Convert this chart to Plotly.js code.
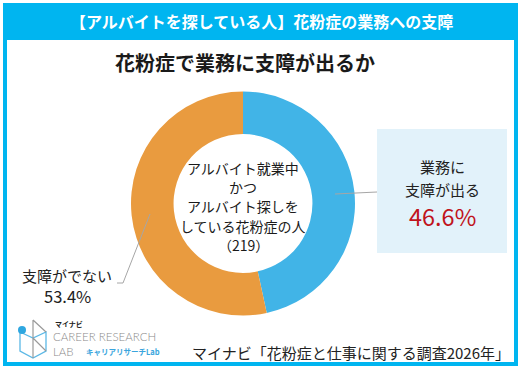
<!DOCTYPE html>
<html><head><meta charset="utf-8">
<script src="https://cdn.plot.ly/plotly-3.0.1.min.js"></script>
<style>html,body{margin:0;padding:0;background:#fff}#c{width:521px;height:372px}</style>
</head><body><div id="c"></div>
<script>
const categories = ["業務に支障が出る", "支障がでない"];
const values = [46.6, 53.4];
const sampleN = 219;
const centerLines = ["アルバイト就業中", "かつ", "アルバイト探しを", "している花粉症の人", "（" + sampleN + "）"];
const colors = ["#41B4E7", "#E99B3F"];
const F = '"Noto Sans CJK JP", "Noto Sans", sans-serif';
const cyan = "#00B5F0";

const cx = 243, cy = 203.5, R = 112, W = 521, H = 372;
const trace = {
  type: "pie", values: values, labels: categories, sort: false, direction: "clockwise", rotation: 0,
  hole: 0.62, textinfo: "none", hoverinfo: "none", showlegend: false,
  marker: {colors: colors, line: {width: 0}},
  domain: {x: [(cx - R) / W, (cx + R) / W], y: [(H - cy - R) / H, (H - cy + R) / H]}
};
function px(x){return x / W;} function py(y){return 1 - y / H;}
const shapes = [
  {type:"rect", xref:"paper", yref:"paper", x0:px(3), x1:px(518), y0:py(3), y1:py(40), fillcolor:cyan, line:{width:0}, layer:"below"},
  {type:"rect", xref:"paper", yref:"paper", x0:px(5), x1:px(516), y0:py(5), y1:py(364), line:{color:cyan, width:4}, fillcolor:"rgba(0,0,0,0)"},
  {type:"rect", xref:"paper", yref:"paper", x0:px(377), x1:px(507), y0:py(129), y1:py(253), fillcolor:"#E2F2FA", line:{width:0}, layer:"below"},
  {type:"path", xref:"paper", yref:"paper", path:`M ${px(335)} ${py(194)} L ${px(377)} ${py(192)}`, line:{color:"#A6A6A6", width:1}},
  {type:"path", xref:"paper", yref:"paper", path:`M ${px(150)} ${py(214)} L ${px(123)} ${py(283)} L ${px(117)} ${py(283)}`, line:{color:"#A6A6A6", width:1}},
  // logo icon
  {type:"path", xref:"paper", yref:"paper", path:`M ${px(20)} ${py(332)} L ${px(20)} ${py(351)} L ${px(33)} ${py(358)} L ${px(46)} ${py(351)} L ${px(46)} ${py(332)} L ${px(33)} ${py(338)} L ${px(20)} ${py(332)}`, line:{color:"#5BB8E6", width:1.3}},
  {type:"path", xref:"paper", yref:"paper", path:`M ${px(33)} ${py(320)} L ${px(46)} ${py(332)} M ${px(33)} ${py(320)} L ${px(33)} ${py(358)} M ${px(33)} ${py(338)} L ${px(46)} ${py(351)}`, line:{color:"#9A9A9A", width:1.2}},
  {type:"circle", xref:"paper", yref:"paper", x0:px(18), x1:px(26), y0:py(326), y1:py(334), fillcolor:"#2FA7E0", line:{width:0}}
];
const annotations = [
  {text:"【アルバイトを探している人】花粉症の業務への支障", x:px(261), y:py(21), font:{family:F, size:16, color:"#fff", weight:"bold"}},
  {text:"花粉症で業務に支障が出るか", x:px(245), y:py(63), font:{family:F, size:20, color:"#1a1a1a", weight:"bold"}},
  {text:"業務に", x:px(442), y:py(166), font:{family:F, size:15, color:"#222"}},
  {text:"支障が出る", x:px(442), y:py(189), font:{family:F, size:15, color:"#222"}},
  {text:values[0].toFixed(1) + "%", x:px(442), y:py(216), font:{family:F, size:23.5, color:"#C0141C"}},
  {text:"支障がでない", x:px(67), y:py(275), font:{family:F, size:15, color:"#222"}},
  {text:values[1].toFixed(1) + "%", x:px(67), y:py(296), font:{family:F, size:16.5, color:"#222"}},
  {text:"マイナビ「花粉症と仕事に関する調査2026年」", x:px(512), y:py(352), xanchor:"right", font:{family:F, size:15, color:"#222"}},
  {text:"マイナビ", x:px(53), y:py(324), xanchor:"left", font:{family:F, size:7, color:"#222", weight:"bold"}},
  {text:"CAREER RESEARCH", x:px(51), y:py(336.5), xanchor:"left", font:{family:"Lato, sans-serif", size:11.5, color:"#8A8A8A", weight:300}},
  {text:"LAB", x:px(51), y:py(351), xanchor:"left", font:{family:"Lato, sans-serif", size:11.5, color:"#8A8A8A", weight:300}},
  {text:"キャリアリサーチLab", x:px(84), y:py(351), xanchor:"left", font:{family:F, size:7.5, color:"#3AA5DD", weight:"bold"}}
].concat(centerLines.map((t, i) => ({text:t, x:px(243), y:py(168 + i * 19.2), font:{family:F, size:14, color:"#1a1a1a"}})))
 .map(a => Object.assign({xref:"paper", yref:"paper", showarrow:false, xanchor:"center", yanchor:"middle"}, a));

Plotly.newPlot("c", [trace], {
  width: W, height: H, margin:{l:0, r:0, t:0, b:0}, paper_bgcolor:"#fff", plot_bgcolor:"#fff",
  shapes: shapes, annotations: annotations
}, {staticPlot:true});
</script></body></html>
